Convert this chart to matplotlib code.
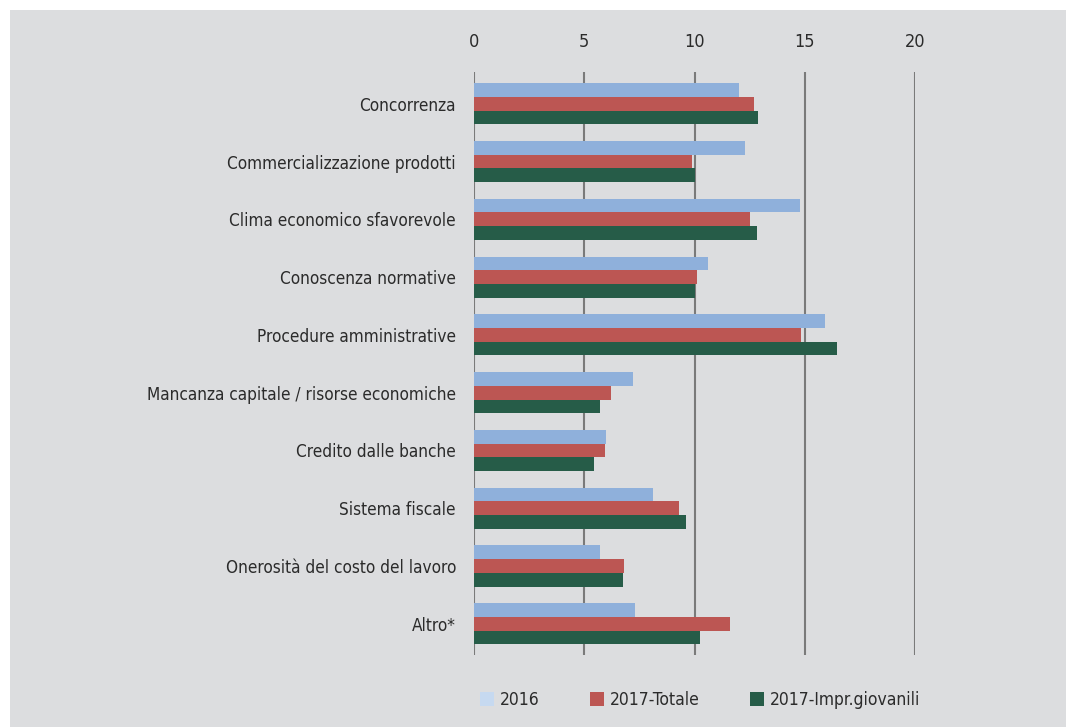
import matplotlib.pyplot as plt
from matplotlib.patches import Patch, Rectangle
import numpy as np

plt.rcParams['font.family'] = ['Liberation Sans Narrow', 'DejaVu Sans']
plt.rcParams['font.stretch'] = 'condensed'

categories = ["Concorrenza", "Commercializzazione prodotti", "Clima economico sfavorevole",
              "Conoscenza normative", "Procedure amministrative",
              "Mancanza capitale / risorse economiche", "Credito dalle banche",
              "Sistema fiscale", "Onerosità del costo del lavoro", "Altro*"]
v2016 = [12.0, 12.3, 14.8, 10.6, 15.9, 7.2, 6.0, 8.1, 5.7, 7.3]
v2017_tot = [12.7, 9.9, 12.5, 10.1, 14.85, 6.2, 5.95, 9.3, 6.8, 11.6]
v2017_giov = [12.9, 10.0, 12.85, 10.0, 16.45, 5.7, 5.45, 9.6, 6.75, 10.25]
series_names = ["2016", "2017-Totale", "2017-Impr.giovanili"]
bar_colors = ["#8FB0DB", "#BC5653", "#265C48"]
legend_colors = ["#C6D9F0", "#BC5653", "#265C48"]
xticks = [0, 5, 10, 15, 20]

bg = "#DCDDDF"
txt = "#2b2b2b"
grid = "#7a7a7a"

fig = plt.figure(figsize=(10.66, 7.27), dpi=100)
fig.patch.set_facecolor("white")
# grey panel behind the chart
panel = fig.add_axes([10 / 1066, 0, 1, 1 - 10 / 727], zorder=0)
panel.set_axis_off()
panel.add_patch(Rectangle((0, 0), 1, 1, transform=panel.transAxes, facecolor=bg, edgecolor="none"))

ax = fig.add_axes([474 / 1066, 1 - 655 / 727, 441 / 1066, 583 / 727], zorder=1)
ax.set_facecolor("none")

y = np.arange(len(categories))
h = 0.237
for i, (vals, col) in enumerate(zip([v2016, v2017_tot, v2017_giov], bar_colors)):
    ax.barh(y + (i - 1) * h, vals, height=h, color=col, zorder=3)

ax.set_xlim(0, 20)
ax.set_ylim(len(categories) - 0.46, -0.55)
ax.set_xticks(xticks)
ax.xaxis.tick_top()
ax.set_yticks(y)
ax.set_yticklabels(categories)
ax.tick_params(axis="x", length=0, pad=15, labelsize=13, labelcolor=txt)
ax.tick_params(axis="y", length=0, pad=13, labelsize=12.3, labelcolor=txt)
ax.grid(axis="x", color=grid, linewidth=1.5, zorder=1)
for s in ax.spines.values():
    s.set_visible(False)

handles = [Patch(facecolor=c, edgecolor="none") for c in legend_colors]
leg = fig.legend(handles, series_names, loc="center left", bbox_to_anchor=(464 / 1066, 1 - 700 / 727),
                 ncol=3, frameon=False, fontsize=12.5, handlelength=0.8, handleheight=0.8,
                 handletextpad=0.35, columnspacing=2.9, labelcolor=txt)
leg.set_zorder(2)

fig.savefig("out.png", dpi=100, facecolor=fig.get_facecolor())
